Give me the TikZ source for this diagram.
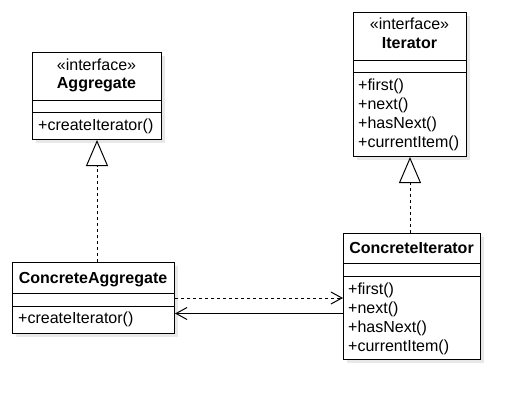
\documentclass[tikz,border=0pt]{standalone}
\usepackage{fontspec}
\setmainfont{Liberation Sans}
\usetikzlibrary{arrows.meta, positioning, shadows}

\begin{document}
\begin{tikzpicture}[x=1pt, y=-1pt,
    umlbox/.style={draw, fill=white, line width=1pt, anchor=north west, inner sep=0pt,
        drop shadow={shadow xshift=3pt, shadow yshift=-3pt, fill=black!9, opacity=1}},
    txt/.style={inner sep=0pt, font=\fontsize{16}{19}\selectfont, text height=11.5pt, text depth=3.5pt},
    title/.style={txt, font=\fontsize{16}{19}\selectfont\bfseries},
    member/.style={txt, anchor=west},
    realize/.style={line width=1pt, dash pattern=on 3pt off 3pt, -{Triangle[open, length=26pt, width=22pt]}},
    depend/.style={line width=1pt, dash pattern=on 3pt off 3pt, -{Straight Barb[length=11pt, width=12pt]}},
    assoc/.style={line width=1pt, -{Straight Barb[length=11pt, width=12pt]}}]
    \useasboundingbox (0,0) rectangle (530,410);
    % class boxes
    \node[umlbox, minimum width=129pt, minimum height=87pt] (agg) at (32,52) {};
    \node[umlbox, minimum width=113pt, minimum height=144pt] (iter) at (353,12) {};
    \node[umlbox, minimum width=162pt, minimum height=71pt] (cagg) at (12,262) {};
    \node[umlbox, minimum width=137pt, minimum height=126pt] (citer) at (343,233) {};
    \foreach \b/\y in {agg/100, agg/112, iter/60, iter/72, cagg/293, cagg/306, citer/263, citer/276} {
        \draw[line width=1pt] (\b.west |- 0,\y) -- (\b.east |- 0,\y);
    }
    % names
    \node[txt] (aggst) at (96.5,66) {«interface»};
    \node[title] (aggname) at (96.5,84) {Aggregate};
    \node[txt] (iterst) at (409.5,25) {«interface»};
    \node[title] (itername) at (409.5,44) {Iterator};
    \node[title] (caggname) at (93,279) {ConcreteAggregate};
    \node[title] (citername) at (411.5,249) {ConcreteIterator};
    % operations
    \node[member] (aggop) at (38,126) {+createIterator()};
    \node[member] (caggop) at (18,319) {+createIterator()};
    \foreach \x/\y/\m/\n in {358/86/first/1, 358/105/next/2, 358/124/hasNext/3, 358/143/currentItem/4,
                             348/290/first/5, 348/309/next/6, 348/328/hasNext/7, 348/347/currentItem/8} {
        \node[member] (op\n) at (\x,\y) {+\m()};
    }
    % relations
    \draw[realize] (cagg.north -| agg.south) -- (agg.south);
    \draw[realize] (citer.north -| iter.south) -- (iter.south);
    \draw[depend] (cagg.east) -- (cagg.east -| citer.west);
    \coordinate (navback) at ([yshift=-15.5pt]cagg.east);
    \draw[assoc] (navback -| citer.west) -- (navback);
\end{tikzpicture}
\end{document}
